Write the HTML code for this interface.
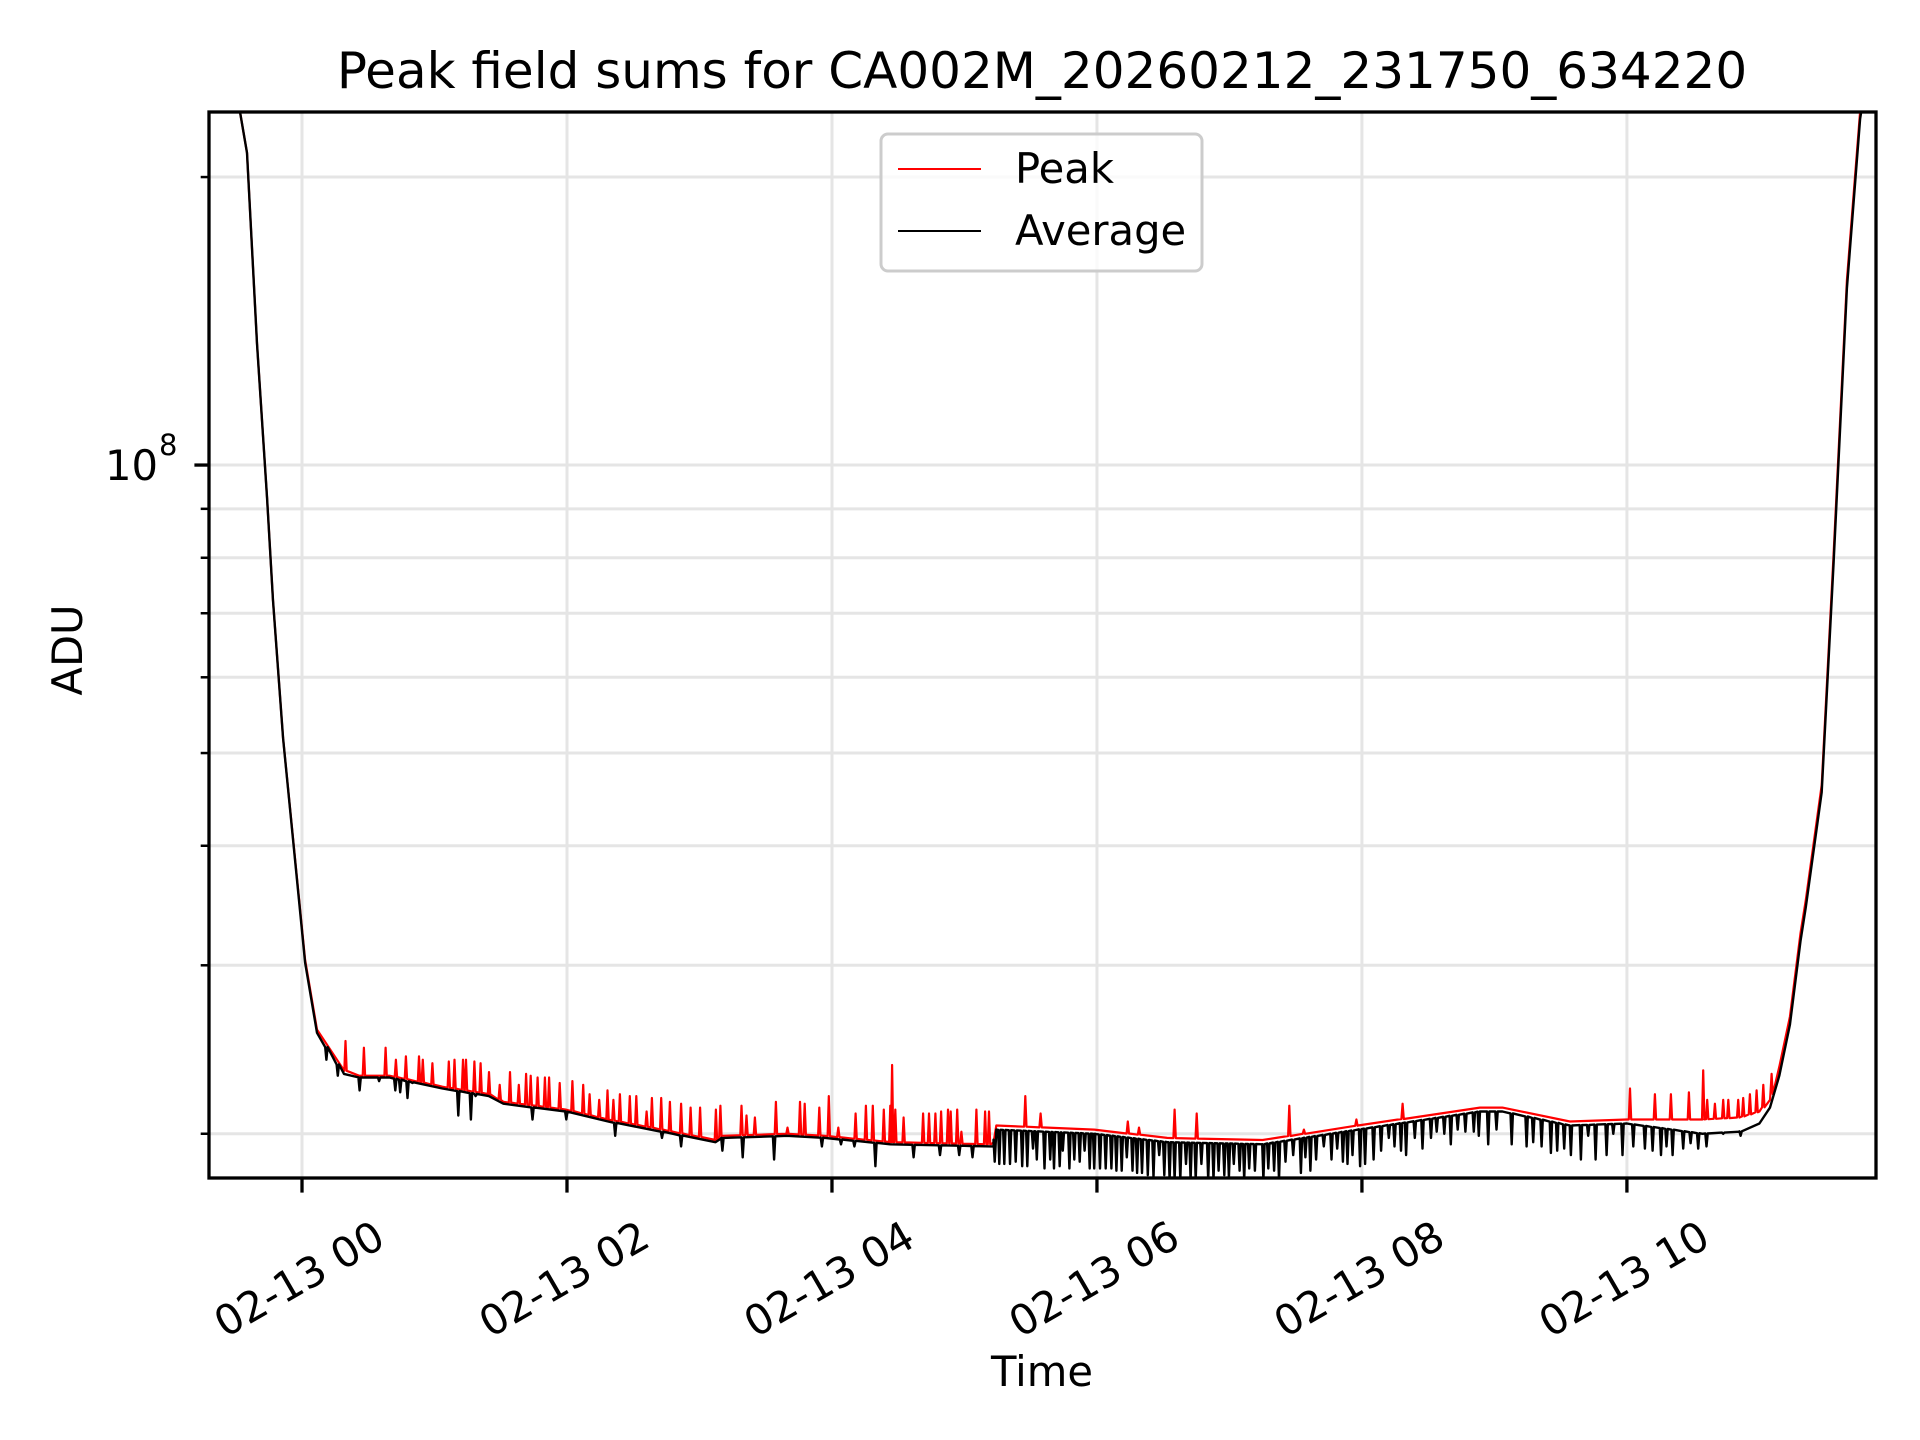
<!DOCTYPE html>
<html><head><meta charset="utf-8"><style>
html,body{margin:0;padding:0;background:#fff}
svg{display:block}
text{font-family:"DejaVu Sans","Liberation Sans",sans-serif;fill:#000}
</style></head><body>
<svg id="chart" width="1920" height="1440" viewBox="0 0 1920 1440" xmlns="http://www.w3.org/2000/svg">
<defs><clipPath id="plotclip"><rect x="209" y="112" width="1667" height="1066"/></clipPath></defs>
<rect width="1920" height="1440" fill="#fff"/>
<text x="1042" y="88" font-size="50" text-anchor="middle">Peak field sums for CA002M_20260212_231750_634220</text>
<g id="grid"></g>
<g id="series" clip-path="url(#plotclip)"></g>
<rect x="209" y="112" width="1667" height="1066" fill="none" stroke="#000" stroke-width="3.3"/>
<g id="axes"></g>
<text x="0" y="0" font-size="41.7" text-anchor="middle" transform="translate(82,650) rotate(-90)">ADU</text>
<text x="1042" y="1386" font-size="41.7" text-anchor="middle">Time</text>
<g transform="translate(-5,0)">
<rect x="886" y="134" width="321" height="137" rx="7" fill="#fff" fill-opacity="0.8" stroke="#ccc" stroke-width="3"/>
<line x1="903" y1="169" x2="986" y2="169" stroke="#f00" stroke-width="2"/>
<text x="1020" y="183" font-size="41.7">Peak</text>
<line x1="903" y1="231" x2="986" y2="231" stroke="#000" stroke-width="2"/>
<text x="1020" y="245" font-size="41.7">Average</text>
</g>
</svg>
<script>
// ---- data (time in hours after 02-13 00:00, values in units of 1e7 ADU) ----
const baseT = [-0.70,-0.47,-0.415,-0.34,-0.264,-0.219,-0.143,0.023,0.113,0.317,0.43,0.66,1.06,1.41,1.52,1.99,2.31,2.80,3.12,3.17,3.66,3.95,4.44,5.20,5.22,5.24,5.98,6.53,7.25,7.97,8.89,9.06,9.57,10.0,10.57,10.85,11.0,11.08,11.15,11.23,11.31,11.35,11.47,11.56,11.66,11.76,11.89];
const peakBase = [30,23.5,21.2,13.4,9.26,7.22,5.18,3.04,2.57,2.33,2.30,2.30,2.24,2.20,2.16,2.12,2.07,2.01,1.97,1.99,2.00,1.99,1.96,1.95,1.96,2.04,2.02,1.98,1.97,2.04,2.13,2.13,2.06,2.07,2.07,2.08,2.11,2.17,2.35,2.65,3.24,3.51,4.63,8.07,15.6,23.4,30];
const avgBase = [30,23.5,21.2,13.4,9.26,7.22,5.18,3.02,2.55,2.31,2.29,2.29,2.23,2.19,2.15,2.11,2.06,2.00,1.96,1.98,1.99,1.98,1.95,1.94,1.94,2.02,2.00,1.96,1.95,2.02,2.11,2.11,2.04,2.05,2.00,2.01,2.05,2.13,2.30,2.60,3.18,3.45,4.55,7.9,15.3,23.0,30];
const peakSpikeT = [0.328,0.467,0.631,0.709,0.784,0.883,0.912,0.984,1.108,1.151,1.215,1.238,1.301,1.348,1.411,1.492,1.570,1.636,1.691,1.726,1.778,1.833,1.865,1.945,2.041,2.122,2.171,2.243,2.306,2.350,2.399,2.474,2.523,2.601,2.641,2.711,2.777,2.861,2.933,3.005,3.124,3.158,3.317,3.355,3.418,3.577,3.664,3.759,3.794,3.904,3.976,4.048,4.178,4.256,4.308,4.391,4.44,4.454,4.478,4.541,4.688,4.732,4.781,4.824,4.876,4.896,4.945,4.977,5.09,5.156,5.185,5.459,5.575,6.233,6.317,6.586,6.753,7.452,7.562,7.958,8.307,10.023,10.211,10.332,10.468,10.576,10.606,10.664,10.727,10.765,10.84,10.878,10.928,10.979,11.029,11.092];
const peakSpikeV = [2.50,2.46,2.46,2.39,2.41,2.41,2.39,2.37,2.38,2.39,2.39,2.39,2.38,2.37,2.32,2.25,2.32,2.25,2.31,2.30,2.29,2.29,2.29,2.26,2.27,2.25,2.20,2.17,2.22,2.17,2.20,2.19,2.19,2.11,2.18,2.18,2.16,2.15,2.13,2.13,2.12,2.14,2.14,2.09,2.08,2.16,2.03,2.16,2.15,2.13,2.19,2.03,2.10,2.14,2.14,2.12,2.14,2.36,2.12,2.08,2.10,2.10,2.10,2.11,2.12,2.11,2.12,2.01,2.12,2.11,2.11,2.19,2.10,2.06,2.03,2.12,2.10,2.14,2.02,2.07,2.15,2.23,2.20,2.20,2.21,2.33,2.17,2.15,2.17,2.17,2.17,2.18,2.20,2.22,2.25,2.31];
const avgDipT = [0.184,0.270,0.435,0.582,0.704,0.741,0.796,0.834,1.180,1.275,1.310,1.740,1.995,2.364,2.717,2.861,3.173,3.326,3.563,3.924,4.068,4.169,4.328,4.616,4.815,4.960,5.061,5.228,5.263,5.301,5.344,5.387,5.436,5.474,5.517,5.546,5.604,5.647,5.676,5.719,5.742,5.792,5.829,5.870,5.907,5.945,5.979,6.023,6.066,6.109,6.147,6.187,6.225,6.268,6.303,6.340,6.384,6.427,6.470,6.508,6.548,6.586,6.629,6.672,6.707,6.745,6.788,6.840,6.880,6.918,6.961,6.996,7.033,7.077,7.111,7.149,7.192,7.256,7.293,7.337,7.374,7.423,7.481,7.539,7.573,7.611,7.654,7.712,7.770,7.813,7.856,7.891,7.929,7.986,8.024,8.088,8.145,8.203,8.246,8.295,8.333,8.399,8.457,8.521,8.564,8.622,8.671,8.723,8.781,8.844,8.882,8.953,9.016,9.13,9.243,9.293,9.356,9.426,9.474,9.527,9.577,9.653,9.708,9.764,9.847,9.897,9.967,10.048,10.136,10.194,10.257,10.299,10.345,10.425,10.481,10.538,10.601,10.727,10.858];
const avgDipV = [2.39,2.30,2.22,2.27,2.22,2.21,2.18,2.26,2.09,2.07,2.19,2.07,2.07,1.99,1.98,1.94,1.92,1.89,1.88,1.94,1.95,1.94,1.85,1.89,1.90,1.90,1.89,1.87,1.86,1.86,1.86,1.87,1.85,1.85,1.93,1.88,1.84,1.88,1.84,1.85,1.92,1.84,1.88,1.87,1.92,1.84,1.84,1.84,1.84,1.84,1.83,1.83,1.89,1.83,1.82,1.82,1.81,1.80,1.90,1.81,1.79,1.79,1.79,1.86,1.79,1.79,1.86,1.79,1.79,1.83,1.81,1.80,1.86,1.83,1.79,1.84,1.83,1.79,1.84,1.83,1.79,1.87,1.90,1.82,1.89,1.83,1.88,1.94,1.88,1.93,1.87,1.86,1.90,1.85,1.86,1.88,1.92,1.98,1.94,1.92,1.90,1.98,1.93,1.98,2.01,2.00,1.95,2.02,2.01,2.01,1.99,1.95,2.02,1.95,1.94,1.96,1.94,1.91,1.92,1.93,1.90,1.88,1.99,1.88,1.90,2.00,1.90,1.94,1.93,1.92,1.90,1.94,1.90,1.93,1.955,1.93,1.94,2.00,1.99];
const xTickHours = [0,2,4,6,8,10];
const xTickLabels = ["02-13 00","02-13 02","02-13 04","02-13 06","02-13 08","02-13 10"];
const yMinorTicks = [2,3,4,5,6,7,8,9,20];

// ---- axes ----
const X0=209,X1=1876,Y0=112,Y1=1178;
const tMin=-0.702, tMax=11.88;
const logMax=Math.log10(23.39), logMin=Math.log10(1.798);
function xs(t){return X0+(t-tMin)/(tMax-tMin)*(X1-X0);}
function ys(v){return Y0+(logMax-Math.log10(v))/(logMax-logMin)*(Y1-Y0);}
const NS="http://www.w3.org/2000/svg";
function mk(tag,attrs,parent){const e=document.createElementNS(NS,tag);for(const k in attrs)e.setAttribute(k,attrs[k]);parent.appendChild(e);return e;}
const grid=document.getElementById('grid'),axes=document.getElementById('axes'),series=document.getElementById('series');

xTickHours.forEach((h,i)=>{
  const x=xs(h);
  const g=mk('line',{x1:x,y1:Y0,x2:x,y2:Y1,stroke:'#e5e5e5','stroke-width':3},grid);
  
  
  const tk=mk('line',{x1:x,y1:Y1,x2:x,y2:Y1+14.6,stroke:'#000','stroke-width':3.3},axes);
  
  
  const tx=mk('text',{x:0,y:0,'font-size':41.7,'text-anchor':'middle','dominant-baseline':'central',transform:`translate(${x-3},1279) rotate(-30)`},axes);
  tx.textContent=xTickLabels[i];
  
  
});
{
  const y=ys(10);
  const g=mk('line',{x1:X0,y1:y,x2:X1,y2:y,stroke:'#e5e5e5','stroke-width':3},grid);
  
  
  const tk=mk('line',{x1:X0-14.6,y1:y,x2:X0,y2:y,stroke:'#000','stroke-width':3.3},axes);
  
  
  const tx=mk('text',{x:158,y:y+15,'font-size':41.7,'text-anchor':'end'},axes);
  tx.textContent='10';
  
  
  const sp=mk('text',{x:159,y:y-10,'font-size':29},axes);
  sp.textContent='8';
  
  
}
yMinorTicks.forEach(v=>{
  const y=ys(v);
  const g=mk('line',{x1:X0,y1:y,x2:X1,y2:y,stroke:'#e5e5e5','stroke-width':3},grid);
  
  
  const tk=mk('line',{x1:X0-8.3,y1:y,x2:X0,y2:y,stroke:'#000','stroke-width':2.5},axes);
  
  
});

// ---- series ----
function baseAt(arr,t){
  if(t<=baseT[0])return arr[0];
  for(let i=1;i<baseT.length;i++){
    if(t<=baseT[i]){const f=(t-baseT[i-1])/(baseT[i]-baseT[i-1]);
      return Math.pow(10,Math.log10(arr[i-1])+f*(Math.log10(arr[i])-Math.log10(arr[i-1])));}
  }
  return arr[arr.length-1];
}
function buildPath(base,spT,spV){
  const ev=[];
  baseT.forEach((t,i)=>ev.push({t:t,v:base[i],s:false}));
  spT.forEach((t,i)=>ev.push({t:t,v:spV[i],s:true}));
  ev.sort((a,b)=>a.t-b.t);
  let d='';
  ev.forEach((e,i)=>{
    const x=xs(e.t);
    if(e.s){const b=ys(baseAt(base,e.t)).toFixed(1);
      d+=`L${(x-1.2).toFixed(1)},${b}L${x.toFixed(1)},${ys(e.v).toFixed(1)}L${(x+1.2).toFixed(1)},${b}`;}
    else d+=(i===0?'M':'L')+x.toFixed(1)+','+ys(e.v).toFixed(1);
  });
  return d;
}
const pk=mk('path',{d:buildPath(peakBase,peakSpikeT,peakSpikeV),fill:'none',stroke:'#f00','stroke-width':2.2,'stroke-linejoin':'round'},series);


const av=mk('path',{d:buildPath(avgBase,avgDipT,avgDipV),fill:'none',stroke:'#000','stroke-width':2.4,'stroke-linejoin':'round'},series);


</script>
</body></html>
